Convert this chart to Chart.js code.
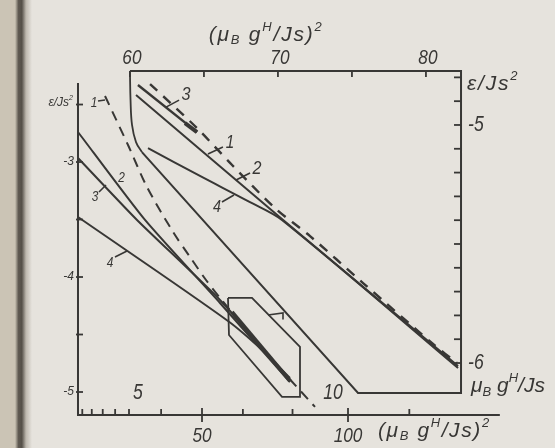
<!DOCTYPE html>
<html>
<head>
<meta charset="utf-8">
<script src="https://cdn.jsdelivr.net/npm/chart.js@4.4.1/dist/chart.umd.min.js"></script>
<style>
  html, body { margin: 0; padding: 0; background: #e6e3dd; }
  #wrap { width: 555px; height: 448px; }
</style>
</head>
<body>
<div id="wrap"><canvas id="c" width="555" height="448"></canvas></div>
<script>
// ---------- outer frame: x = (μB gH/Js)^2, y = ε/Js^2 ----------
const outerXTicks = [9, 12.25, 16, 20.25, 25, 36, 64, 81, 121];   // h = 3 ... 11
const outerXMajor = [50, 100];
const outerXMajorLabels = ['50', '100'];
const outerFieldTicks = [25, 100];                                 // h = 5, h = 10
const outerFieldLabels = ['5', '10'];
const outerYTicks = [-2.5, -3, -3.5, -4, -4.5, -5];
const outerYLabelValues = [-3, -4, -5];
const outerYLabels = ['-3', '-4', '-5'];

const outerAxes   = [[7.53, -2.313], [7.53, -5.2], [152, -5.2]];
const outerCurve1 = [[16.78, -2.426], [24.66, -2.852], [31.16, -3.217], [40.07, -3.608], [45.89, -3.826],
                     [51.37, -4.026], [56.16, -4.182], [69.86, -4.600], [88.70, -5.130]];
const outerCurve2 = [[7.53, -2.739], [30.48, -3.504], [56.16, -4.226], [80.14, -4.913]];
const outerCurve3 = [[7.53, -2.965], [27.74, -3.504], [56.16, -4.200], [80.14, -4.895]];
const outerCurve4 = [[7.53, -3.478], [58.90, -4.382], [70.55, -4.634], [80.14, -4.878]];
const outerBundle = [[60.27, -4.304], [80.14, -4.904]];
const hexagon     = [[58.90, -4.182], [67.12, -4.182], [83.56, -4.608], [83.56, -5.043],
                     [77.40, -5.043], [59.24, -4.504], [58.90, -4.182]];
const bracket     = [[72.6, -4.330], [77.74, -4.313], [77.74, -4.37]];

// ---------- inset: x = (μB gH/Js)^2 (top), y = ε/Js^2 (right) ----------
const insetXTicks = [60, 65, 70, 75, 80];
const insetXLabelValues = [60, 70, 80];
const insetXLabels = ['60', '70', '80'];
const insetYTicks = [-4.8, -4.9, -5.0, -5.1, -5.2, -5.3, -5.4, -5.5, -5.6, -5.7, -5.8, -5.9, -6.0];
const insetYLabelValues = [-5, -6];
const insetYLabels = ['-5', '-6'];

const insetFrame     = [[60.81, -5.114], [75.41, -6.126], [82.37, -6.126], [82.37, -4.773], [60.0, -4.773]];
const insetFrameBend = [[60.0, -4.773], [60.04, -4.895], [60.14, -5.0], [60.41, -5.072], [60.81, -5.114]];
const insetCurve1 = [[61.36, -4.828], [64.53, -5.013], [66.90, -5.168], [69.80, -5.349], [72.17, -5.467],
                     [75.75, -5.664], [80.48, -5.920], [82.10, -6.000]];
const insetCurve2 = [[60.41, -4.874], [70.27, -5.395], [82.17, -6.013]];
const insetCurve3 = [[60.54, -4.832], [64.53, -5.030]];
const insetCurve3Tip = [[63.72, -4.992], [64.53, -5.030]];
const insetCurve4 = [[61.22, -5.097], [64.73, -5.214], [68.11, -5.324], [70.27, -5.399], [82.17, -6.021]];

// curve captions: anchor on the curve, leader end and text centre as pixel offsets
const curveLabels = [
  { t: '1', sx: 'x',  sy: 'y',  at: [16.78, -2.461], lead: [-7, 1],  txt: [-11, 3],  size: 14 },
  { t: '2', sx: 'x',  sy: 'y',  at: [19.35, -3.139], lead: null,     txt: [9, 0],    size: 14 },
  { t: '3', sx: 'x',  sy: 'y',  at: [17.12, -3.200], lead: [-7, 7],  txt: [-11, 12], size: 14 },
  { t: '4', sx: 'x',  sy: 'y',  at: [24.31, -3.774], lead: [-12, 6], txt: [-17, 12], size: 14 },
  { t: '3', sx: 'xi', sy: 'yi', at: [62.44, -4.925], lead: [13, -7], txt: [20, -12], size: 19 },
  { t: '1', sx: 'xi', sy: 'yi', at: [65.27, -5.122], lead: [15, -7], txt: [22, -11], size: 18 },
  { t: '2', sx: 'xi', sy: 'yi', at: [67.17, -5.231], lead: [14, -7], txt: [21, -11], size: 19 },
  { t: '4', sx: 'xi', sy: 'yi', at: [67.03, -5.294], lead: [-12, 7], txt: [-17, 12], size: 17 }
];

const INK = '#383735';
const FONT = '"Liberation Sans", "DejaVu Sans", sans-serif';
const UNIT_SQ = [['(μ', 0], ['B', 1], [' g', 0], ['H', 2], ['/Js)', 0], ['2', 2]];
const UNIT    = [['μ', 0], ['B', 1], [' g', 0], ['H', 2], ['/Js', 0]];
const EPS     = [['ε/Js', 0], ['2', 2]];

function series(points, xID, yID, extra) {
  return Object.assign({
    data: points.map(([x, y]) => ({ x, y })),
    xAxisID: xID, yAxisID: yID,
    showLine: true, pointRadius: 0, pointHoverRadius: 0,
    borderColor: INK, borderWidth: 2, tension: 0, fill: false
  }, extra || {});
}

// rich italic text: kind 0 normal, 1 subscript, 2 superscript
function rich(ctx, parts, x, y, size, align, opts) {
  opts = opts || {};
  const squeeze = opts.squeeze || 1;
  const spacing = opts.spacing || 0;
  const fontOf = k => `italic ${k ? Math.round(size * 0.62) : size}px ${FONT}`;
  let w = 0;
  const widths = parts.map(([s, k]) => {
    ctx.font = fontOf(k);
    const m = ctx.measureText(s).width + spacing * s.length;
    w += m;
    return m;
  });
  w *= squeeze;
  let cx = align === 'center' ? x - w / 2 : align === 'right' ? x - w : x;
  ctx.save();
  ctx.fillStyle = INK;
  ctx.textBaseline = 'middle';
  ctx.textAlign = 'left';
  parts.forEach(([s, k], i) => {
    ctx.font = fontOf(k);
    const dy = k === 1 ? size * 0.28 : k === 2 ? -size * 0.36 : 0;
    ctx.save();
    ctx.translate(cx, y + dy);
    ctx.scale(squeeze, 1);
    let ox = 0;
    for (const ch of s) {
      ctx.fillText(ch, ox, 0);
      ox += ctx.measureText(ch).width + spacing;
    }
    ctx.restore();
    cx += widths[i] * squeeze;
  });
  ctx.restore();
}

const pagePlugin = {
  id: 'page',
  beforeDraw(chart) {
    const { ctx, width, height } = chart;
    ctx.save();
    ctx.fillStyle = '#e6e3dd';
    ctx.fillRect(0, 0, width, height);
    ctx.fillStyle = '#cbc4b5';
    ctx.fillRect(0, 0, 18, height);
    const g = ctx.createLinearGradient(15, 0, 32, 0);
    g.addColorStop(0, 'rgba(203,196,181,1)');
    g.addColorStop(0.2, 'rgba(95,90,82,1)');
    g.addColorStop(0.4, 'rgba(85,80,72,1)');
    g.addColorStop(0.65, 'rgba(190,185,175,1)');
    g.addColorStop(1, 'rgba(230,227,221,1)');
    ctx.fillStyle = g;
    ctx.fillRect(15, 0, 17, height);
    ctx.restore();
  }
};

const axesPlugin = {
  id: 'axesText',
  afterDatasetsDraw(chart) {
    const { ctx } = chart;
    const X = chart.scales.x, Y = chart.scales.y, XI = chart.scales.xi, YI = chart.scales.yi;
    ctx.save();
    ctx.strokeStyle = INK;
    ctx.lineWidth = 1.8;
    const seg = (a, b, c, d) => { ctx.beginPath(); ctx.moveTo(a, b); ctx.lineTo(c, d); ctx.stroke(); };

    // outer left axis
    const lx = X.getPixelForValue(outerAxes[0][0]);
    outerYTicks.forEach(v => { const p = Y.getPixelForValue(v); seg(lx - 2, p, lx + 5, p); });
    outerYLabelValues.forEach((v, i) => rich(ctx, [[outerYLabels[i], 0]], lx - 4, Y.getPixelForValue(v), 12, 'right'));
    rich(ctx, EPS, lx - 5, Y.getPixelForValue(-2.5) - 2, 12, 'right');

    // outer bottom axis
    const by = Y.getPixelForValue(outerAxes[1][1]);
    outerXTicks.forEach(v => { const p = X.getPixelForValue(v); seg(p, by, p, by - 6); });
    outerXMajor.forEach((v, i) => {
      const p = X.getPixelForValue(v);
      seg(p, by - 7, p, by + 7);
      rich(ctx, [[outerXMajorLabels[i], 0]], p, by + 21, 21, 'center', { squeeze: 0.82 });
    });
    const fieldOffsets = [9, -15];
    outerFieldTicks.forEach((v, i) => {
      rich(ctx, [[outerFieldLabels[i], 0]], X.getPixelForValue(v) + fieldOffsets[i], by - 22, 22, 'center', { squeeze: 0.8 });
    });
    rich(ctx, UNIT_SQ, X.getPixelForValue(100) + 30, by + 16, 21, 'left', { spacing: 1.6 });

    // inset top axis
    const ty = YI.getPixelForValue(insetFrame[3][1]);
    insetXTicks.forEach(v => { const p = XI.getPixelForValue(v); seg(p, ty, p, ty + 6); });
    insetXLabelValues.forEach((v, i) => rich(ctx, [[insetXLabels[i], 0]], XI.getPixelForValue(v) + 2, ty - 13, 21, 'center', { squeeze: 0.82 }));
    rich(ctx, UNIT_SQ, XI.getPixelForValue(69.2), ty - 36, 21, 'center', { spacing: 1.8 });

    // inset right axis
    const rx = XI.getPixelForValue(insetFrame[2][0]);
    insetYTicks.forEach(v => { const p = YI.getPixelForValue(v); seg(rx, p, rx - 7, p); });
    insetYLabelValues.forEach((v, i) => rich(ctx, [[insetYLabels[i], 0]], rx + 7, YI.getPixelForValue(v), 22, 'left', { squeeze: 0.8 }));
    rich(ctx, EPS, rx + 6, YI.getPixelForValue(-4.8) + 7, 21, 'left', { spacing: 1.8 });
    rich(ctx, UNIT, rx + 10, YI.getPixelForValue(insetFrame[1][1]) - 7, 21, 'left');

    // curve captions
    ctx.lineWidth = 1.6;
    curveLabels.forEach(l => {
      const px = chart.scales[l.sx].getPixelForValue(l.at[0]);
      const py = chart.scales[l.sy].getPixelForValue(l.at[1]);
      if (l.lead) seg(px, py, px + l.lead[0], py + l.lead[1]);
      rich(ctx, [[l.t, 0]], px + l.txt[0], py + l.txt[1], l.size, 'center', { squeeze: 0.85 });
    });
    ctx.restore();
  }
};

new Chart(document.getElementById('c'), {
  type: 'scatter',
  data: {
    datasets: [
      series(outerAxes, 'x', 'y', { borderWidth: 2 }),
      series(outerCurve1, 'x', 'y', { borderDash: [10, 7], tension: 0.3 }),
      series(outerCurve2, 'x', 'y', { tension: 0.2 }),
      series(outerCurve3, 'x', 'y', { tension: 0.2 }),
      series(outerCurve4, 'x', 'y', { tension: 0.3 }),
      series(outerBundle, 'x', 'y', { borderWidth: 4 }),
      series(hexagon, 'x', 'y', { borderWidth: 1.8 }),
      series(bracket, 'x', 'y', { borderWidth: 1.6 }),
      series(insetFrame, 'xi', 'yi', { borderWidth: 2 }),
      series(insetFrameBend, 'xi', 'yi', { borderWidth: 1.8, tension: 0.4 }),
      series(insetCurve1, 'xi', 'yi', { borderDash: [10, 8], borderWidth: 2.4, tension: 0.3 }),
      series(insetCurve2, 'xi', 'yi', { tension: 0.2 }),
      series(insetCurve3, 'xi', 'yi', { borderWidth: 2.4 }),
      series(insetCurve3Tip, 'xi', 'yi', { borderWidth: 4 }),
      series(insetCurve4, 'xi', 'yi', { tension: 0.3 })
    ]
  },
  options: {
    responsive: false,
    animation: false,
    events: [],
    layout: { padding: 0 },
    plugins: { legend: { display: false }, tooltip: { enabled: false } },
    scales: {
      x:  { type: 'linear', axis: 'x', display: false, min: -19.18, max: 170.89 },
      y:  { type: 'linear', axis: 'y', display: false, min: -5.487, max: -1.591 },
      xi: { type: 'linear', axis: 'x', display: false, min: 51.22, max: 88.72 },
      yi: { type: 'linear', axis: 'y', display: false, min: -6.357, max: -4.475 }
    }
  },
  plugins: [pagePlugin, axesPlugin]
});
</script>
</body>
</html>
